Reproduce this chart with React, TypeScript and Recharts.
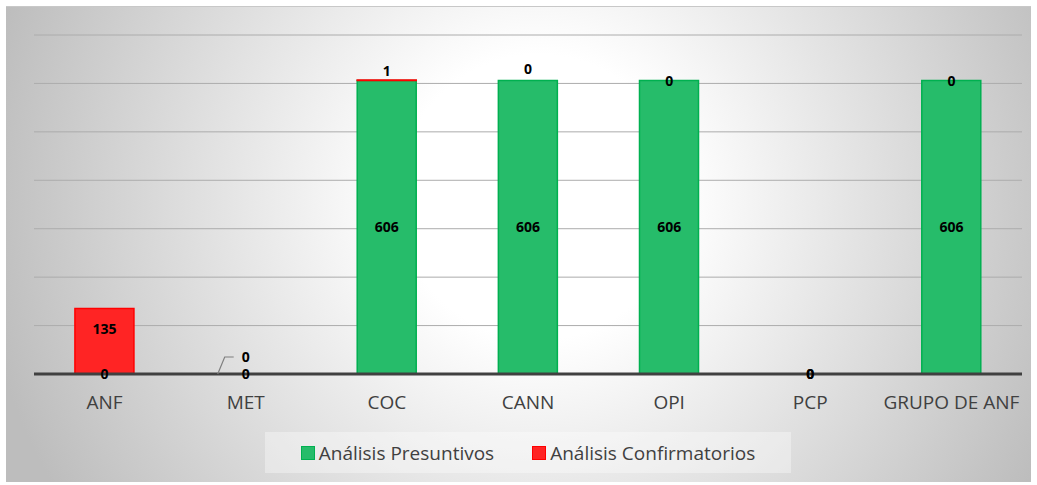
import React from 'react';
import { ComposedChart, Bar, XAxis, YAxis, CartesianGrid, ReferenceDot } from 'recharts';

const categories = ['ANF', 'MET', 'COC', 'CANN', 'OPI', 'PCP', 'GRUPO DE ANF'];
const presuntivos = [0, 0, 606, 606, 606, 0, 606];
const confirmatorios = [135, 0, 1, 0, 0, 0, 0];
const yTicks = [0, 100, 200, 300, 400, 500, 600, 700];

const series = [
  { key: 'presuntivos', name: 'Análisis Presuntivos', fill: '#26bc6a', stroke: '#00b050' },
  { key: 'confirmatorios', name: 'Análisis Confirmatorios', fill: '#ff2424', stroke: '#ff0000' },
];

const data = categories.map((cat, i) => ({
  cat,
  presuntivos: presuntivos[i],
  confirmatorios: confirmatorios[i],
}));

const FONT = '"Open Sans", "Noto Sans", sans-serif';

// red labels that were dragged by hand in the original
const redShift: Record<string, number> = { ANF: -12, COC: -9, CANN: -12, MET: -17 };

const ValueText = ({ cx, cy, value }: any) => (
  <text x={cx} y={cy} dy={5} textAnchor="middle" fontFamily={FONT} fontSize={14}
    fontWeight={700} fill="#000">
    {value}
  </text>
);

const makeLabel = (value: number, shift: number, leader: boolean) => (props: any) => {
  const { cx, cy } = props;
  return (
    <g>
      {leader && (
        <polyline points={`${cx - 28},${cy} ${cx - 21},${cy + shift} ${cx - 12},${cy + shift}`}
          fill="none" stroke="#7f7f7f" strokeWidth={1.2} />
      )}
      <ValueText cx={cx} cy={cy + shift} value={value} />
    </g>
  );
};

export default function App() {
  return (
    <div style={{
      position: 'absolute', left: 6, top: 6, width: 1025, height: 476,
      background: 'radial-gradient(ellipse 55% 120% at 52% 40%, #ffffff 25%, #bdbdbd 100%)',
      borderTop: '1px solid #c8c8c8', boxSizing: 'border-box',
    }}>
      <ComposedChart width={1025} height={476} data={data}
        margin={{ top: 28, right: 9, left: 28, bottom: 0 }}
        barCategoryGap="29%">
        <CartesianGrid horizontal vertical={false} stroke="#acacac" />
        <YAxis hide domain={[0, 700]} ticks={yTicks} />
        <XAxis dataKey="cat" height={109} tickLine={false}
          axisLine={{ stroke: '#404040', strokeWidth: 3 }}
          tick={{ fontFamily: FONT, fontSize: 19, fill: '#404040' }} tickMargin={16} />
        {series.map((s) => (
          <Bar key={s.key} dataKey={s.key} name={s.name} stackId="a" fill={s.fill}
            stroke={s.stroke} strokeWidth={1.5} isAnimationActive={false} />
        ))}
        {data.map((d) => (
          <ReferenceDot key={'g' + d.cat} x={d.cat} y={d.presuntivos / 2} r={0}
            ifOverflow="visible" shape={makeLabel(d.presuntivos, 0, false)} />
        ))}
        {data.map((d) => (
          <ReferenceDot key={'r' + d.cat} x={d.cat} y={d.presuntivos + d.confirmatorios / 2} r={0}
            ifOverflow="visible"
            shape={makeLabel(d.confirmatorios, redShift[d.cat] || 0, d.cat === 'MET')} />
        ))}
      </ComposedChart>
      <div style={{
        position: 'absolute', left: 259, top: 425, width: 526, height: 41,
        background: 'rgba(255,255,255,0.35)', display: 'flex', alignItems: 'center',
        justifyContent: 'center', gap: 38, fontFamily: FONT, fontSize: 19, color: '#404040',
      }}>
        {series.map((s) => (
          <div key={s.key} style={{ display: 'flex', alignItems: 'center', gap: 4 }}>
            <span style={{
              width: 12, height: 12, background: s.fill, border: `1.5px solid ${s.stroke}`,
              display: 'inline-block',
            }} />
            <span>{s.name}</span>
          </div>
        ))}
      </div>
    </div>
  );
}
